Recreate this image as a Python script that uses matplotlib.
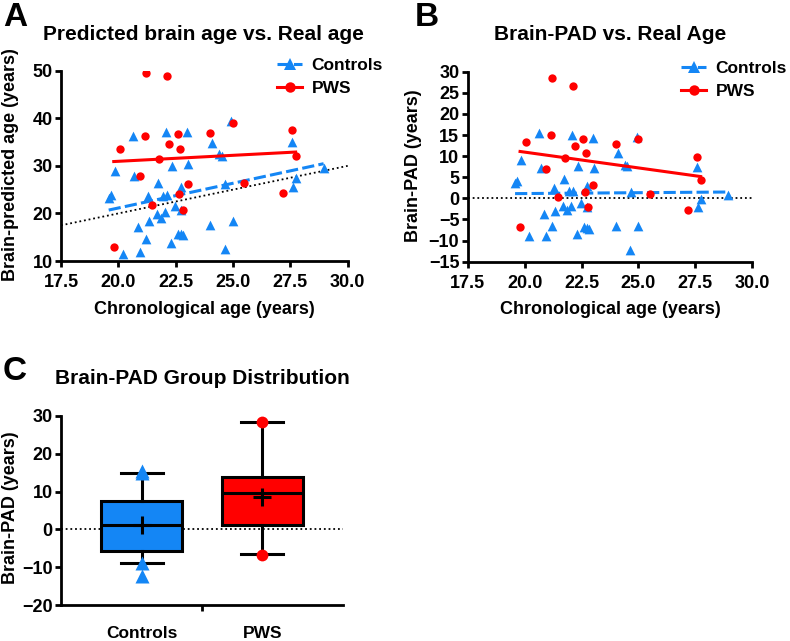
import numpy as np
import matplotlib
matplotlib.use('Agg')
import matplotlib.pyplot as plt
from matplotlib.lines import Line2D

plt.rcParams['font.family'] = ['Liberation Sans', 'DejaVu Sans']
plt.rcParams['font.weight'] = 'bold'
plt.rcParams['axes.labelweight'] = 'bold'

BLUE = '#1486F5'
RED = '#FF0000'

# ---------------- data ----------------
ctrl_age = [20.64, 22.09, 23.0, 24.92, 19.85, 20.7, 22.34, 23.05, 24.1, 24.4,
            24.5, 27.56, 19.58, 19.68, 21.73, 21.29, 21.96, 22.11, 22.75, 24.66,
            27.73, 28.95, 21.67, 22.02, 21.87, 22.46, 22.75, 27.63, 20.85, 21.33,
            21.22, 22.6, 22.73, 22.81, 22.29, 20.2, 20.94, 24.0, 24.98, 24.63]
ctrl_pred = [36.19, 37.09, 37.2, 39.52, 28.95, 27.8, 30.04, 30.35, 34.8, 32.4,
             32.1, 35.06, 23.28, 23.88, 26.33, 23.69, 23.66, 23.81, 25.65, 26.16,
             27.53, 29.65, 19.97, 20.32, 19.07, 21.46, 20.75, 25.63, 17.05, 18.43,
             14.72, 15.7, 15.63, 15.51, 13.79, 11.4, 11.94, 17.5, 18.48, 12.43]
ctrl_pad = [15.55, 15.0, 14.2, 14.6, 9.1, 7.1, 7.7, 7.3, 10.7, 8.0,
            7.6, 7.5, 3.7, 4.2, 4.6, 2.4, 1.7, 1.7, 2.9, 1.5,
            -0.2, 0.7, -1.7, -1.7, -2.8, -1.0, -2.0, -2.0, -3.8, -2.9,
            -6.5, -6.9, -7.1, -7.3, -8.5, -8.8, -9.0, -6.5, -6.5, -12.2]

pws_age = [21.22, 22.14, 20.06, 21.17, 22.58, 22.21, 22.71, 24.01, 24.98, 21.77,
           20.94, 27.56, 27.73, 23.02, 21.45, 22.65, 25.5, 22.8, 27.19, 19.8]
pws_pred = [49.62, 48.84, 33.46, 36.27, 36.68, 34.61, 33.51, 36.91, 39.08, 31.37,
            27.94, 37.46, 32.03, 26.22, 21.85, 24.05, 26.5, 20.8, 24.39, 13.0]
pws_pad = [28.4, 26.7, 13.4, 15.1, 14.1, 12.4, 10.8, 12.9, 14.1, 9.6,
           7.0, 9.9, 4.3, 3.2, 0.4, 1.4, 1.0, -2.0, -2.8, -6.8]

groups = ['Controls', 'PWS']
age_ticks = [17.5, 20.0, 22.5, 25.0, 27.5, 30.0]
pred_ticks = [10, 20, 30, 40, 50]
pad_ticks = [-15, -10, -5, 0, 5, 10, 15, 20, 25, 30]
box_ticks = [-20, -10, 0, 10, 20, 30]

# ---------------- layout ----------------
W, H = 790, 641
fig = plt.figure(figsize=(W / 100, H / 100), dpi=100)


def px_axes(l, t, r, b):
    return fig.add_axes([l / W, 1 - b / H, (r - l) / W, (b - t) / H])


def style(ax, xpad=5):
    for s in ['top', 'right']:
        ax.spines[s].set_visible(False)
    for s in ['left', 'bottom']:
        ax.spines[s].set_linewidth(2)
    ax.tick_params(direction='out', length=4.5, width=2, labelsize=13)
    ax.tick_params(axis='y', pad=1.5)
    ax.tick_params(axis='x', pad=xpad)
    for lab in ax.get_xticklabels() + ax.get_yticklabels():
        lab.set_fontweight('bold')


def ftext(x, y, s, **kw):
    return fig.text(x / W, 1 - y / H, s, **kw)


LW = 2.2
DASH = (0, (4, 1.4))
DOT = (0, (1, 1.6))
TRI_S = 7.0 ** 2
CIR_S = 6.0 ** 2


def fit_line(ax, x, y, **kw):
    coef = np.polyfit(x, y, 1)
    xs = np.array([min(x), max(x)])
    ax.plot(xs, np.polyval(coef, xs), **kw)


def legend(ax, x, y):
    h1 = Line2D([], [], color=BLUE, lw=LW, ls=DASH, marker='^', markersize=8.5,
                markeredgewidth=0)
    h2 = Line2D([], [], color=RED, lw=LW, marker='o', markersize=7.5,
                markeredgewidth=0)
    ax.legend([h1, h2], groups, loc='upper left',
              bbox_to_anchor=(x / W, 1 - y / H), bbox_transform=fig.transFigure,
              frameon=False, handlelength=1.45, handletextpad=0.55,
              labelspacing=0.45, borderpad=0, borderaxespad=0, numpoints=1,
              prop={'weight': 'bold', 'size': 12.5})


# ---------------- Panel A ----------------
axA = px_axes(61, 70.7, 347.7, 261)
axA.axline((0, 0), slope=1, color='k', lw=1.3, ls=DOT, zorder=1)
axA.scatter(ctrl_age, ctrl_pred, marker='^', s=TRI_S, color=BLUE,
            linewidths=0, zorder=3)
fit_line(axA, ctrl_age, ctrl_pred, color=BLUE, lw=LW, ls=DASH, zorder=4)
fit_line(axA, pws_age, pws_pred, color=RED, lw=LW, zorder=4)
axA.scatter(pws_age, pws_pred, marker='o', s=CIR_S, color=RED,
            linewidths=0, zorder=5)
axA.set_xlim(17.5, 30)
axA.set_ylim(10, 50)
axA.set_xticks(age_ticks, [f'{v:.1f}' for v in age_ticks])
axA.set_yticks(pred_ticks)
style(axA)
legend(axA, 277, 58)

# ---------------- Panel B ----------------
axB = px_axes(467.7, 71.7, 752.3, 261.7)
axB.axhline(0, color='k', lw=1.3, ls=DOT, zorder=1)
axB.scatter(ctrl_age, ctrl_pad, marker='^', s=TRI_S, color=BLUE,
            linewidths=0, zorder=3)
fit_line(axB, ctrl_age, ctrl_pad, color=BLUE, lw=LW, ls=DASH, zorder=4)
fit_line(axB, pws_age, pws_pad, color=RED, lw=LW, zorder=4)
axB.scatter(pws_age, pws_pad, marker='o', s=CIR_S, color=RED,
            linewidths=0, zorder=5)
axB.set_xlim(17.5, 30)
axB.set_ylim(-15, 30)
axB.set_xticks(age_ticks, [f'{v:.1f}' for v in age_ticks])
axB.set_yticks(pad_ticks)
style(axB)
legend(axB, 681, 61)

# ---------------- Panel C ----------------
axC = px_axes(61, 416, 342.7, 605)
axC.axhline(0, color='k', lw=1.3, ls=DOT, zorder=0.5)


def box_stats(data, label):
    d = np.asarray(data, dtype=float)
    q1, med, q3 = np.percentile(d, [25, 50, 75], method='weibull')
    lo, hi = np.percentile(d, [5, 95], method='weibull')
    fl = d[(d < lo) | (d > hi)]
    return dict(label=label, med=med, q1=q1, q3=q3, whislo=lo, whishi=hi,
                mean=d.mean(), fliers=fl)


for i, (data, col, mk, ms) in enumerate([(ctrl_pad, BLUE, '^', 9.5),
                                          (pws_pad, RED, 'o', 8.5)]):
    st = box_stats(data, groups[i])
    axC.bxp([st], positions=[i], widths=0.67, capwidths=0.35,
            patch_artist=True, showmeans=True,
            boxprops=dict(facecolor=col, edgecolor='k', lw=LW),
            medianprops=dict(color='k', lw=LW),
            whiskerprops=dict(color='k', lw=LW),
            capprops=dict(color='k', lw=LW),
            meanprops=dict(marker='+', markeredgecolor='k', markersize=13,
                           markeredgewidth=LW),
            flierprops=dict(marker=mk, markerfacecolor=col,
                            markeredgecolor='none', markersize=ms))

axC.set_xlim(-0.669, 1.667)
axC.set_ylim(-20, 30)
axC.set_yticks(box_ticks)
axC.set_xticks([0, 1], groups)
axC.set_xticks([0.5], minor=True)
style(axC)
axC.tick_params(axis='x', which='major', length=0, pad=15, labelsize=12.5)
axC.tick_params(axis='x', which='minor', length=4.5, width=2)

# ---------------- texts ----------------
ftext(203.5, 35, 'Predicted brain age vs. Real age', ha='center', va='center',
      fontsize=15, fontweight='bold')
ftext(610, 35, 'Brain-PAD vs. Real Age', ha='center', va='center',
      fontsize=15, fontweight='bold')
ftext(202, 379, 'Brain-PAD Group Distribution', ha='center', va='center',
      fontsize=15, fontweight='bold')

ftext(3, 18, 'A', ha='left', va='center', fontsize=24, fontweight='bold')
ftext(415, 18, 'B', ha='left', va='center', fontsize=24, fontweight='bold')
ftext(3, 371, 'C', ha='left', va='center', fontsize=24, fontweight='bold')

ftext(204, 310, 'Chronological age (years)', ha='center', va='center',
      fontsize=13, fontweight='bold')
ftext(610, 310, 'Chronological age (years)', ha='center', va='center',
      fontsize=13, fontweight='bold')

ftext(11, 165, 'Brain-predicted age (years)', ha='center', va='center',
      rotation=90, fontsize=13, fontweight='bold')
ftext(413.5, 166, 'Brain-PAD (years)', ha='center', va='center',
      rotation=90, fontsize=13, fontweight='bold')
ftext(11, 508, 'Brain-PAD (years)', ha='center', va='center',
      rotation=90, fontsize=13, fontweight='bold')

fig.savefig('out.png', dpi=100)
